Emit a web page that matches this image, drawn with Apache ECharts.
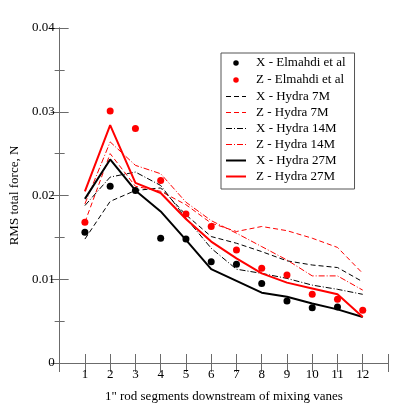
<!DOCTYPE html>
<html>
<head>
<meta charset="utf-8">
<script src="https://cdn.jsdelivr.net/npm/echarts@6/dist/echarts.min.js"></script>
<style>
  html, body { margin: 0; padding: 0; background: #fff; }
  #chart { width: 399px; height: 416px; }
</style>
</head>
<body>
<div id="chart"></div>
<script>
// rod segment positions
var segments = [1, 2, 3, 4, 5, 6, 7, 8, 9, 10, 11, 12];

// measured (Elmahdi et al)
var xElmahdi = [0.0156, 0.0211, 0.0206, 0.0149, 0.0148, 0.0121, 0.0118, 0.0095, 0.0074, 0.0066, 0.0067, null];
var zElmahdi = [0.0168, 0.0301, 0.0280, 0.0218, 0.0178, 0.0163, 0.0135, 0.0113, 0.0105, 0.0082, 0.0076, 0.0063];

// Hydra runs
var xHydra7 = [0.0148, 0.0193, 0.0206, 0.0209, 0.0177, 0.0151, 0.0143, 0.0133, 0.0122, 0.0117, 0.0114, 0.0097];
var zHydra7 = [0.0168, 0.0250, 0.0211, 0.0205, 0.0189, 0.0167, 0.0157, 0.0163, 0.0158, 0.0149, 0.0138, 0.0107];
var xHydra14 = [0.0188, 0.0222, 0.0228, 0.0212, 0.0173, 0.0137, 0.0112, 0.0107, 0.0101, 0.0093, 0.0088, 0.0082];
var zHydra14 = [0.0190, 0.0264, 0.0236, 0.0226, 0.0192, 0.0170, 0.0155, 0.0139, 0.0123, 0.0104, 0.0104, 0.0087];
var xHydra27 = [0.0196, 0.0243, 0.0206, 0.0181, 0.0147, 0.0112, 0.0098, 0.0084, 0.0079, 0.0071, 0.0064, 0.0055];
var zHydra27 = [0.0205, 0.0284, 0.0215, 0.0203, 0.0172, 0.0145, 0.0125, 0.0107, 0.0096, 0.0089, 0.0082, 0.0055];

var FONT = '"Liberation Serif", "DejaVu Serif", serif';
var AXIS_COLOR = '#6b6b6b';
// small dot centred in a 20x14 legend box
var DOT_ICON = 'path://M0,0M40,28M14.5,14a5.5,5.5 0 1,0 11,0a5.5,5.5 0 1,0 -11,0z';

function pairs(vals) {
    var out = [];
    for (var i = 0; i < segments.length; i++) {
        if (vals[i] != null) out.push([segments[i], vals[i]]);
    }
    return out;
}

function lineSeries(name, vals, color, type, width) {
    return {
        name: name,
        type: 'line',
        data: pairs(vals),
        symbol: 'none',
        lineStyle: { color: color, width: width, type: type },
        // hides the symbol the legend would draw on the line icon
        itemStyle: { color: color, opacity: 0 },
        z: 2
    };
}

function dotSeries(name, vals, color) {
    return {
        name: name,
        type: 'scatter',
        data: pairs(vals),
        symbol: 'circle',
        symbolSize: 7,
        itemStyle: { color: color, opacity: 1 },
        z: 3
    };
}

var dashed = [5, 3];
var dashDot = [6, 2, 1, 2];

var option = {
    animation: false,
    backgroundColor: '#fff',
    grid: { left: 53, right: 11, top: 28, bottom: 53 },
    legend: {
        orient: 'vertical',
        left: 221,
        top: 53,
        padding: [3, 9, 6, 4],
        itemWidth: 20,
        itemHeight: 14,
        itemGap: 3,
        borderColor: '#555',
        borderWidth: 1,
        textStyle: { fontFamily: FONT, fontSize: 13, color: '#000', padding: [0, 0, 0, 5] },
        data: [
            { name: 'X - Elmahdi et al', icon: DOT_ICON },
            { name: 'Z - Elmahdi et al', icon: DOT_ICON },
            { name: 'X - Hydra 7M', lineStyle: { width: 1 } },
            { name: 'Z - Hydra 7M', lineStyle: { width: 1 } },
            { name: 'X - Hydra 14M', lineStyle: { width: 1 } },
            { name: 'Z - Hydra 14M', lineStyle: { width: 1 } },
            { name: 'X - Hydra 27M', lineStyle: { width: 2 } },
            { name: 'Z - Hydra 27M', lineStyle: { width: 2 } }
        ]
    },
    xAxis: [
        {
            type: 'value',
            min: 0,
            max: 13,
            interval: 1,
            name: '1" rod segments downstream of mixing vanes',
            nameLocation: 'middle',
            nameGap: 27,
            nameTextStyle: { fontFamily: FONT, fontSize: 13, color: '#000' },
            axisLine: { lineStyle: { color: AXIS_COLOR } },
            axisTick: { inside: true, length: 9, lineStyle: { color: AXIS_COLOR } },
            axisLabel: {
                fontFamily: FONT, fontSize: 13, color: '#000', margin: 5,
                formatter: function (v) { return (v >= 1 && v <= 12) ? String(v) : ''; }
            },
            splitLine: { show: false }
        },
        {
            type: 'value',
            position: 'top',
            min: 0,
            max: 13,
            interval: 1,
            axisLine: { lineStyle: { color: AXIS_COLOR } },
            axisTick: { inside: true, length: 9, lineStyle: { color: AXIS_COLOR } },
            axisLabel: { show: false },
            splitLine: { show: false }
        }
    ],
    yAxis: [
        {
            type: 'value',
            min: 0,
            max: 0.04,
            interval: 0.01,
            name: 'RMS total force, N',
            nameLocation: 'middle',
            nameGap: 38,
            nameTextStyle: { fontFamily: FONT, fontSize: 13, color: '#000' },
            axisLine: { show: true, lineStyle: { color: AXIS_COLOR } },
            axisTick: { show: true, inside: true, length: 9, lineStyle: { color: AXIS_COLOR } },
            minorTick: { show: true, splitNumber: 2, length: 5, lineStyle: { color: AXIS_COLOR } },
            axisLabel: { fontFamily: FONT, fontSize: 13, color: '#000', margin: 5 },
            splitLine: { show: false }
        },
        {
            type: 'value',
            position: 'right',
            min: 0,
            max: 0.04,
            interval: 0.01,
            axisLine: { show: true, lineStyle: { color: AXIS_COLOR } },
            axisTick: { show: true, inside: true, length: 9, lineStyle: { color: AXIS_COLOR } },
            minorTick: { show: true, splitNumber: 2, length: 5, lineStyle: { color: AXIS_COLOR } },
            axisLabel: { show: false },
            splitLine: { show: false }
        }
    ],
    series: [
        dotSeries('X - Elmahdi et al', xElmahdi, '#000'),
        dotSeries('Z - Elmahdi et al', zElmahdi, '#ff0000'),
        lineSeries('X - Hydra 7M', xHydra7, '#000', dashed, 1),
        lineSeries('Z - Hydra 7M', zHydra7, '#ff0000', dashed, 1),
        lineSeries('X - Hydra 14M', xHydra14, '#000', dashDot, 1),
        lineSeries('Z - Hydra 14M', zHydra14, '#ff0000', dashDot, 1),
        lineSeries('X - Hydra 27M', xHydra27, '#000', 'solid', 2),
        lineSeries('Z - Hydra 27M', zHydra27, '#ff0000', 'solid', 2)
    ]
};

var mychart = echarts.init(document.getElementById('chart'));
mychart.setOption(option);
</script>
</body>
</html>
